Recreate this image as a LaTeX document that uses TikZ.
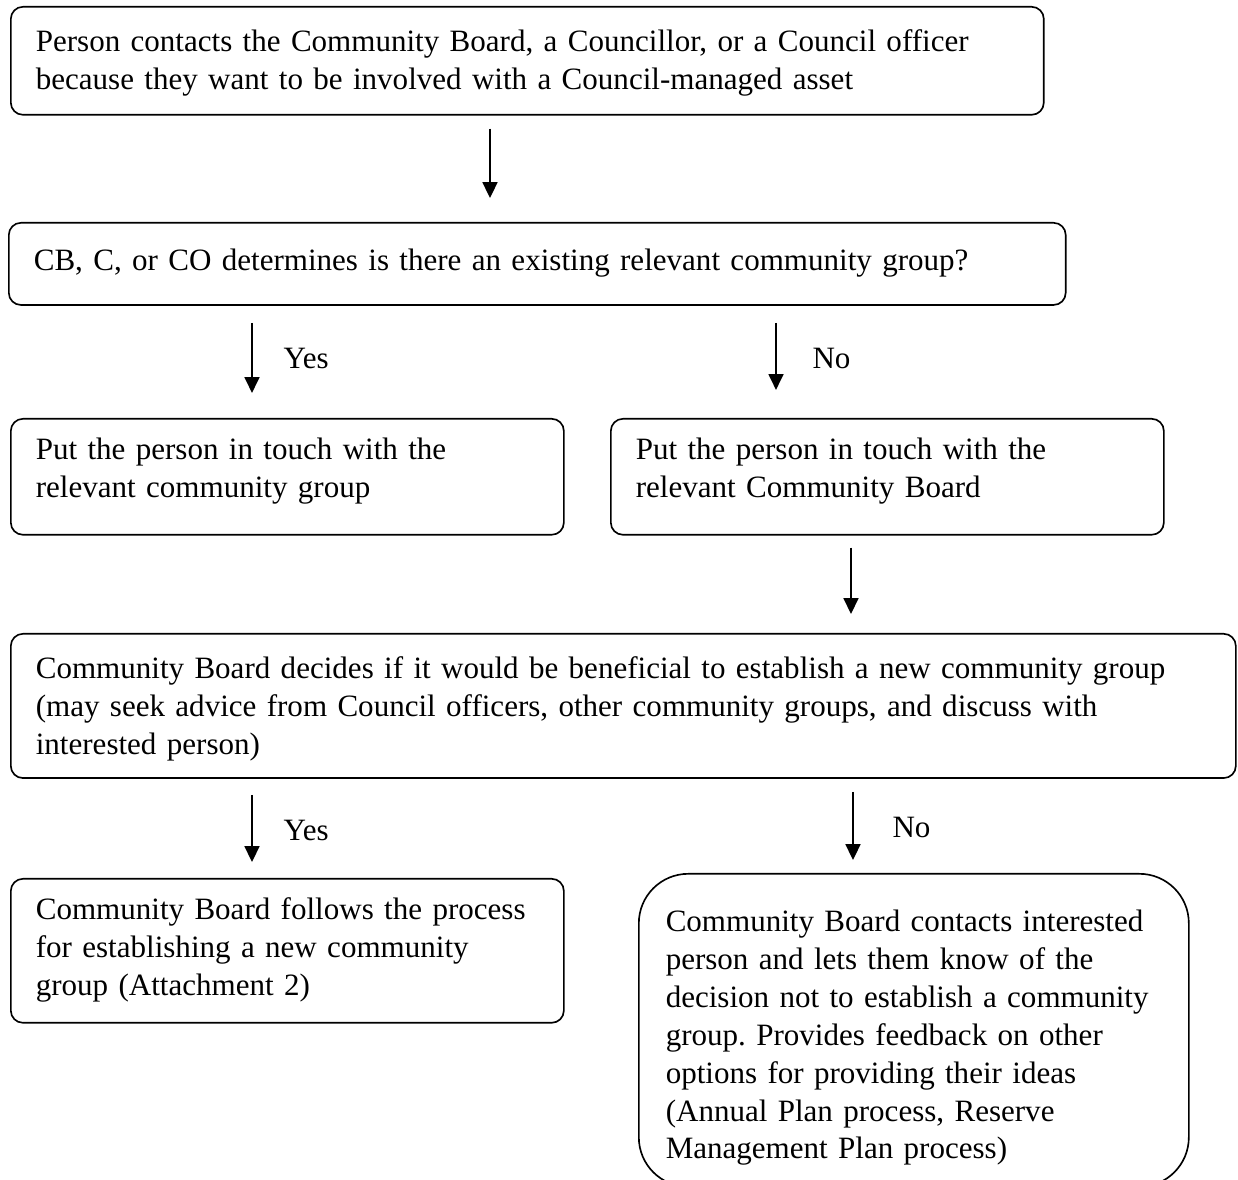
\documentclass[tikz,border=0pt]{standalone}
\usepackage{fontspec}
\setmainfont{Liberation Serif}
\usetikzlibrary{arrows.meta}
\frenchspacing

\newcommand{\boxtext}[1]{\begin{tabular}[t]{@{}l@{}}#1\end{tabular}}

\tikzset{
  box/.style={draw, line width=0.6pt, rounded corners=4.4pt, align=left, anchor=north west,
    inner xsep=9.1pt, inner ysep=0pt, font=\fontsize{11.3}{13.8}\selectfont},
  arr/.style={line width=0.8pt, -{Triangle[length=5.8pt,width=5.4pt]}},
  lbl/.style={anchor=base west, inner sep=0pt, font=\fontsize{11.3}{13.8}\selectfont}
}

\begin{document}
\begin{tikzpicture}[x=0.364pt, y=-0.364pt]
  \useasboundingbox (0,0) rectangle (1238,1180);

  % boxes
  \node[box, text width=357.8pt, text height=16.4pt, text depth=22.9pt] (contact) at (10,6)
    {\boxtext{Person contacts the Community Board, a Councillor, or a Council officer\\
     because they want to be involved with a Council-managed asset}};
  \node[box, text width=366.5pt, text height=17.4pt, text depth=12.5pt] (exists) at (8,222)
    {\boxtext{CB, C, or CO determines is there an existing relevant community group?}};
  \node[box, text width=183.1pt, text height=14.8pt, text depth=27.4pt] (group) at (10,418)
    {\boxtext{Put the person in touch with the\\ relevant community group}};
  \node[box, text width=183.1pt, text height=14.8pt, text depth=27.4pt] (board) at (610,418)
    {\boxtext{Put the person in touch with the\\ relevant Community Board}};
  \node[box, text width=427.7pt, text height=16.4pt, text depth=36.1pt] (decide) at (10,633)
    {\boxtext{Community Board decides if it would be beneficial to establish a new community group\\
     (may seek advice from Council officers, other community groups, and discuss with\\
     interested person)}};
  \node[box, text width=183.1pt, text height=14.9pt, text depth=37.5pt] (newgroup) at (10,878)
    {\boxtext{Community Board follows the process\\ for establishing a new community\\ group (Attachment 2)}};
  \node[box, rounded corners=18pt, text width=180.6pt, inner xsep=9.8pt, text height=21pt, text depth=92.9pt] (nogroup) at (638,873)
    {\boxtext{Community Board contacts interested\\ person and lets them know of the\\
     decision not to establish a community\\ group. Provides feedback on other\\
     options for providing their ideas\\ (Annual Plan process, Reserve\\
     Management Plan process)}};

  % arrows
  \coordinate (c1) at (490,0);
  \coordinate (c2) at (252,0);
  \coordinate (c3) at (776,0);
  \coordinate (c4) at (851,0);
  \coordinate (c5) at (853,0);
  \draw[arr, shorten <=4.7pt, shorten >=8.7pt] (c1 |- contact.south) -- (c1 |- exists.north);
  \draw[arr, shorten <=6.2pt, shorten >=9.1pt] (c2 |- exists.south) -- (c2 |- group.north);
  \draw[arr, shorten <=6.2pt, shorten >=10.2pt] (c3 |- exists.south) -- (c3 |- board.north);
  \draw[arr, shorten <=4.4pt, shorten >=6.9pt] (c4 |- board.south) -- (c4 |- decide.north);
  \draw[arr, shorten <=5.8pt, shorten >=5.8pt] (c2 |- decide.south) -- (c2 |- newgroup.north);
  \draw[arr, shorten <=4.7pt, shorten >=4.7pt] (c5 |- decide.south) -- (c5 |- nogroup.north);

  % labels
  \node[lbl] (yes1) at (283,369) {Yes};
  \node[lbl] (no1) at (812,369) {No};
  \node[lbl] (yes2) at (283,841) {Yes};
  \node[lbl] (no2) at (892,838) {No};
\end{tikzpicture}
\end{document}
